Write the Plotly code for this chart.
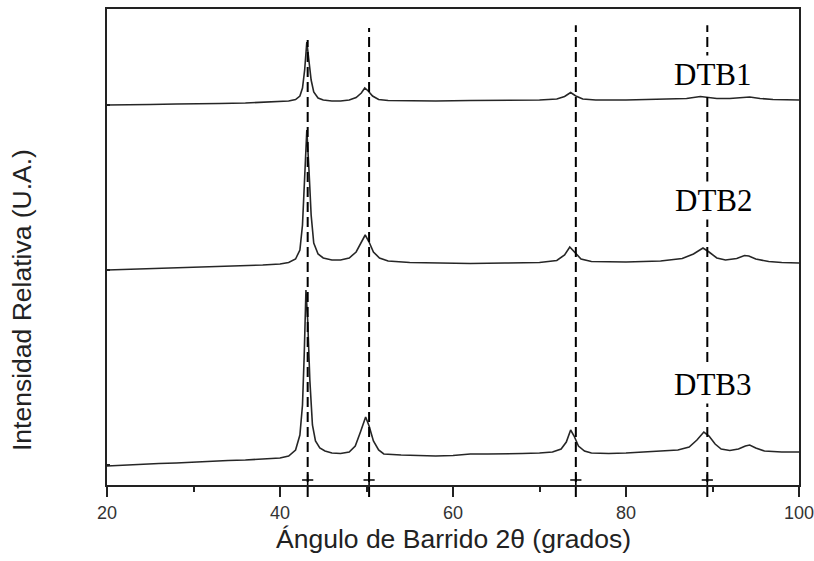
import plotly.graph_objects as go

# ---- data (display units, offsets included) ----
dtb1_2theta = [20, 22, 25, 28, 30, 33, 36, 38, 40, 41, 41.8, 42.3, 42.6, 42.85, 43.1, 43.35, 43.6, 43.9, 44.4, 45,
               46, 47, 48, 48.8, 49.4, 49.8, 50.2, 50.7, 51.4, 52.5, 55, 58, 62, 66, 70, 72, 72.9, 73.6, 74.2, 75,
               76.5, 80, 84, 87, 88.6, 89.5, 90.5, 92, 93.5, 94.3, 95.5, 97, 100]
dtb1_int = [380, 380, 380.5, 381, 381, 381.5, 382, 382.5, 383, 384, 385.5, 389, 397, 415, 443, 425, 405, 393, 387, 385,
            384, 384, 385, 387.5, 392, 397, 394, 389, 385.5, 384.5, 384, 384, 384.5, 384.5, 385, 386, 388.5, 392.5, 389, 386,
            385, 385, 385.5, 386.5, 388.5, 387.5, 386.5, 386.5, 387.5, 388, 386.5, 385.5, 385]

dtb2_2theta = [20, 22, 25, 28, 30, 33, 36, 38, 40, 41, 41.8, 42.3, 42.6, 42.85, 43.1, 43.35, 43.6, 43.9, 44.4, 45,
               46, 47, 48, 48.8, 49.4, 49.85, 50.3, 50.8, 51.5, 52.5, 55, 58, 62, 66, 70, 72, 72.9, 73.5, 74.1, 74.8,
               76, 80, 84, 86.5, 87.8, 88.9, 89.6, 90.5, 91.5, 92.8, 93.7, 94.2, 95, 96.5, 98, 100]
dtb2_int = [215, 215.5, 216.5, 217, 217.5, 218.5, 219.5, 220, 221, 222.5, 226, 235, 260, 310, 355, 315, 270, 242, 231, 227,
            225, 225, 227, 233, 242, 250, 243, 233, 227, 224, 222.5, 222, 221.5, 222, 222.5, 224.5, 230, 238, 232, 226,
            223.5, 223, 224, 226.5, 231, 237, 233, 227, 225, 226.5, 229.5, 229, 226, 223.5, 222.5, 222]

dtb3_2theta = [20, 22, 24, 26, 28, 30, 32, 34, 36, 38, 40, 41, 41.8, 42.3, 42.6, 42.8, 43.0, 43.2, 43.45, 43.75,
               44.1, 44.6, 45.2, 46, 47, 48, 48.7, 49.3, 49.9, 50.3, 50.8, 51.4, 52, 54, 56, 58, 60, 62, 64, 66,
               68, 70, 71.5, 72.5, 73.1, 73.6, 74.0, 74.5, 75.2, 76, 78, 80, 82, 84, 86, 87.3, 88.2, 89.0, 89.6, 90.3,
               91, 92, 93, 93.8, 94.3, 95, 96, 98, 100]
dtb3_int = [19, 20, 20.5, 21.5, 22, 23, 23.5, 24.5, 25, 26, 27, 29, 35, 50, 80, 130, 195, 165, 105, 60,
            44, 37, 34, 32, 31.5, 33, 39, 53, 68, 59, 44, 35, 31, 30, 29.5, 29, 29.5, 31, 31, 31,
            31.5, 32, 33, 36, 43, 55, 49, 39, 34, 32, 31.5, 32, 33, 33.5, 35, 38, 45, 53, 49, 41,
            36, 34.5, 36, 39, 40, 37, 34, 33, 33]

series_names = ["DTB1", "DTB2", "DTB3"]
label_x = [90.05, 90.15, 90.1]
label_y = [411, 285, 101]

peak_positions = [43.2, 50.3, 74.2, 89.4]
peak_line_tops = [0.935, 0.96, 0.966, 0.966]
marker_level = [5, 5, 5, 5]

x_ticks = [20, 40, 60, 80, 100]
y_ticks = [20, 215, 380]

fig = go.Figure()
for xs, ys, name in [(dtb1_2theta, dtb1_int, "DTB1"), (dtb2_2theta, dtb2_int, "DTB2"), (dtb3_2theta, dtb3_int, "DTB3")]:
    fig.add_trace(go.Scatter(x=xs, y=ys, mode="lines", name=name,
                             line=dict(color="#262626", width=1.6), showlegend=False))

fig.add_trace(go.Scatter(x=peak_positions, y=marker_level, mode="markers", showlegend=False,
                         marker=dict(symbol="cross-thin", size=8, line=dict(color="black", width=1.6))))

for px, top in zip(peak_positions, peak_line_tops):
    fig.add_shape(type="line", xref="x", yref="paper", x0=px, x1=px, y0=-0.025, y1=top,
                  line=dict(color="black", width=2, dash="10px,5px"), layer="above")

for nm, lx, ly in zip(series_names, label_x, label_y):
    fig.add_annotation(x=lx, y=ly, xref="x", yref="y", text=nm, showarrow=False,
                       font=dict(family="Liberation Serif, Times New Roman, serif", size=31, color="black"),
                       bgcolor="white", borderpad=1)

# axis titles
fig.add_annotation(xref="paper", yref="paper", x=(453 - 107) / 692, y=(485 - 539) / 476,
                   text="Ángulo de Barrido 2θ (grados)", showarrow=False, xanchor="center", yanchor="middle",
                   font=dict(family="Liberation Sans, Arial, sans-serif", size=26.5, color="#222"))
fig.add_annotation(xref="paper", yref="paper", x=(22 - 107) / 692, y=(485 - 300) / 476,
                   text="Intensidad Relativa (U.A.)", showarrow=False, textangle=-90,
                   xanchor="center", yanchor="middle",
                   font=dict(family="Liberation Sans, Arial, sans-serif", size=26.5, color="#222"))

fig.update_layout(
    width=814, height=561,
    margin=dict(l=107, r=15, t=9, b=76, autoexpand=False),
    paper_bgcolor="white", plot_bgcolor="white",
    xaxis=dict(range=[20, 100], tickvals=x_ticks, ticks="outside", ticklen=10, tickwidth=1.5,
               tickcolor="#222", showline=True, linecolor="#222", linewidth=2, mirror=True,
               showgrid=False, zeroline=False, automargin=False, ticklabeloverflow="allow",
               tickfont=dict(family="Liberation Sans, Arial, sans-serif", size=18, color="#333"),
               minor=dict(dtick=10, ticks="outside", ticklen=5, tickwidth=1.5, tickcolor="#222", showgrid=False)),
    yaxis=dict(range=[0, 476], tickvals=y_ticks, ticks="inside", ticklen=3, tickwidth=1.5, tickcolor="#222",
               showticklabels=False, showline=True, linecolor="#222", linewidth=2, mirror=True,
               showgrid=False, zeroline=False, automargin=False),
)

fig.write_html("out.html")
